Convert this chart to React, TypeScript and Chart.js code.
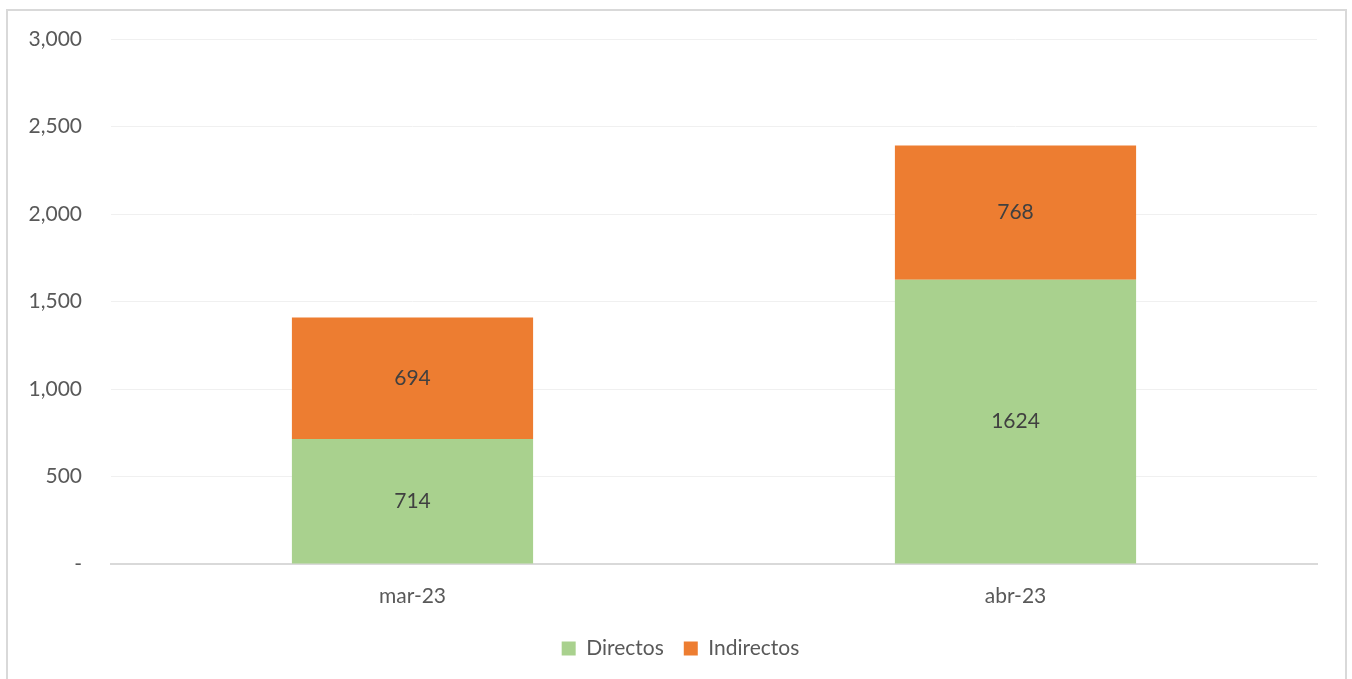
import React, { useEffect, useRef } from "react";
import { Chart, registerables } from "chart.js";

Chart.register(...registerables);

const categories = ["mar-23", "abr-23"];
const directos = [714, 1624];
const indirectos = [694, 768];
const yTicks = [0, 500, 1000, 1500, 2000, 2500, 3000];

const FONT = "Lato, 'Open Sans', sans-serif";

const dataLabelPlugin = {
  id: "dataLabels",
  afterDatasetsDraw(chart: any) {
    const ctx = chart.ctx;
    ctx.save();
    ctx.font = `21px ${FONT}`;
    ctx.fillStyle = "#404040";
    ctx.textAlign = "center";
    ctx.textBaseline = "middle";
    chart.data.datasets.forEach((ds: any, i: number) => {
      const meta = chart.getDatasetMeta(i);
      meta.data.forEach((el: any, j: number) => {
        const p = el.getCenterPoint();
        ctx.fillText(String(ds.data[j]), p.x, p.y);
      });
    });
    ctx.restore();
  },
};

export default function App() {
  const ref = useRef<HTMLCanvasElement | null>(null);
  useEffect(() => {
    if (!ref.current) return;
    const chart = new Chart(ref.current, {
      type: "bar",
      data: {
        labels: categories,
        datasets: [
          { label: "Directos", data: directos, backgroundColor: "#A9D18E" },
          { label: "Indirectos", data: indirectos, backgroundColor: "#ED7D31" },
        ],
      },
      options: {
        responsive: false,
        animation: false,
        devicePixelRatio: 1,
        layout: { padding: { left: 9, right: 0, top: 39, bottom: 10 } },
        datasets: { bar: { categoryPercentage: 1, barPercentage: 0.4 } } as any,
        scales: {
          x: {
            stacked: true,
            grid: { display: false, drawTicks: false },
            border: { display: true, color: "#D9D9D9", width: 2 },
            ticks: { color: "#595959", font: { family: FONT, size: 21 }, padding: 20 },
            afterFit: (s: any) => { s.height = 54; },
          },
          y: {
            stacked: true,
            min: 0,
            max: 3000,
            afterBuildTicks: (s: any) => { s.ticks = yTicks.map((v) => ({ value: v })); },
            grid: { color: "#F0F0F0", lineWidth: 1, drawTicks: false },
            border: { display: false },
            ticks: {
              color: "#595959",
              font: { family: FONT, size: 21 },
              padding: 29,
              callback: (v: any) => (Number(v) === 0 ? "-" : Number(v).toLocaleString("en-US")),
            },
            afterFit: (s: any) => { s.width = 102; s.paddingTop = 0; s.paddingBottom = 0; },
          },
          yRight: {
            position: "right",
            display: true,
            grid: { display: false, drawTicks: false },
            border: { display: false },
            ticks: { display: false },
            afterFit: (s: any) => { s.width = 35; s.paddingTop = 0; s.paddingBottom = 0; },
          },
        },
        plugins: {
          legend: {
            position: "bottom",
            labels: {
              color: "#595959",
              font: { family: FONT, size: 21 },
              boxWidth: 14,
              boxHeight: 14,
              padding: 20,
            },
          },
          tooltip: { enabled: false },
        },
      },
      plugins: [dataLabelPlugin],
    });
    return () => chart.destroy();
  }, []);
  return (
    <div style={{ position: "absolute", left: 0, top: 0, width: 1352, height: 679, overflow: "hidden", background: "#fff" }}>
      <div style={{ position: "absolute", left: 6, top: 9, width: 1337, height: 720, border: "2px solid #D9D9D9" }} />
      <canvas ref={ref} width={1352} height={679} style={{ position: "absolute", left: 0, top: 0, width: 1352, height: 679 }} />
    </div>
  );
}
